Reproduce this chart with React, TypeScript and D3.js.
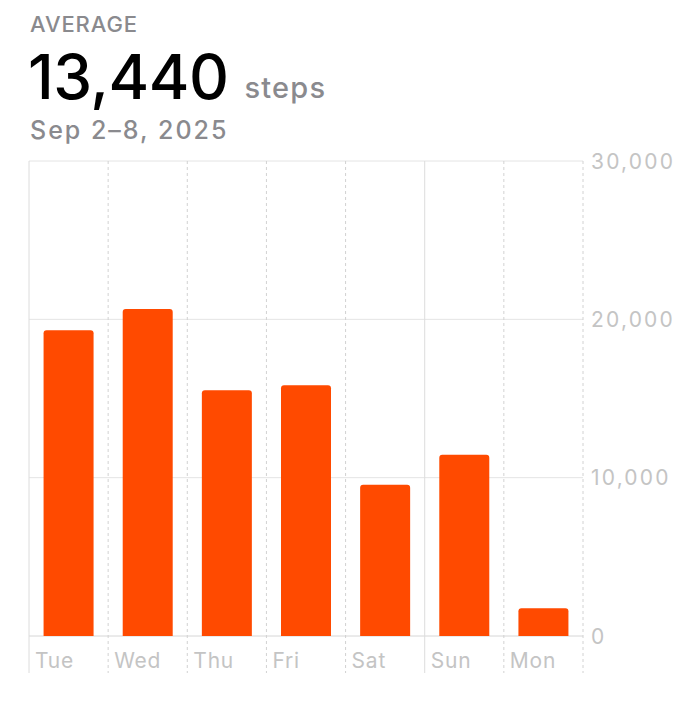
import React from "react";
import * as d3 from "d3";

// Daily step counts for the week
const days = ["Tue", "Wed", "Thu", "Fri", "Sat", "Sun", "Mon"];
const steps = [19310, 20660, 15520, 15840, 9560, 11440, 1750];
const yTicks = [0, 10000, 20000, 30000];
const headerLabel = "AVERAGE";
const unitLabel = "steps";
const rangeLabel = "Sep 2–8, 2025";
const weekStartDay = "Sun";

const W = 688;
const H = 720;
const plot = { left: 29, right: 583, top: 161, bottom: 636, lineBottom: 673 };
const FONT = "Inter, 'Noto Sans', sans-serif";
const BAR = "#ff4a00";
const GRID = "#e4e4e4";
const TICK_TEXT = "#c4c4c4";
const GRAY = "#8a8a8e";

function topRoundedRect(x: number, y: number, w: number, h: number, r: number) {
  const rr = Math.min(r, h, w / 2);
  const p = d3.path();
  p.moveTo(x, y + h);
  p.lineTo(x, y + rr);
  p.arcTo(x, y, x + rr, y, rr);
  p.lineTo(x + w - rr, y);
  p.arcTo(x + w, y, x + w, y + rr, rr);
  p.lineTo(x + w, y + h);
  p.closePath();
  return p.toString();
}

export default function App() {
  const x = d3
    .scaleBand<string>()
    .domain(days)
    .range([plot.left, plot.right])
    .paddingInner(0)
    .paddingOuter(0);
  const y = d3.scaleLinear().domain([0, 30000]).range([plot.bottom, plot.top]);
  const barW = 50;
  const avg = Math.round((d3.mean(steps) ?? 0) / 10) * 10;
  const fmt = d3.format(",");

  const boundaries = days.map((d) => ({ x: x(d)!, solid: d === weekStartDay || d === days[0] }));
  boundaries.push({ x: plot.right, solid: false });

  return (
    <svg
      width={W}
      height={H}
      viewBox={`0 0 ${W} ${H}`}
      style={{ position: "absolute", left: 0, top: 0, display: "block", background: "#fff" }}
      fontFamily={FONT}
    >
      {/* header */}
      <text x={30} y={32} fontSize={22} fontWeight={500} fill={GRAY} letterSpacing={0.9}>
        {headerLabel}
      </text>
      <text x={28} y={99} fontSize={62} fontWeight={500} fill="#000" letterSpacing={-0.5}>
        {fmt(avg)}
        <tspan dx={16} fontSize={29} fill={GRAY} dy={-1} letterSpacing={1.2}>
          {unitLabel}
        </tspan>
      </text>
      <text x={30} y={139} fontSize={25} fontWeight={500} fill={GRAY} letterSpacing={2.0}>
        {rangeLabel}
      </text>

      {/* horizontal grid */}
      {yTicks.map((t) => (
        <line
          key={t}
          x1={plot.left}
          x2={plot.right}
          y1={y(t)}
          y2={y(t)}
          stroke={t === 0 ? "#d6d6d6" : GRID}
          strokeWidth={1}
        />
      ))}

      {/* vertical day separators */}
      {boundaries.map((b, i) => (
        <line
          key={i}
          x1={b.x}
          x2={b.x}
          y1={plot.top}
          y2={plot.lineBottom}
          stroke={b.solid ? "#dcdcdc" : "#d2d2d2"}
          strokeWidth={1}
          strokeDasharray={b.solid ? undefined : "3,3"}
        />
      ))}

      {/* bars */}
      {days.map((d, i) => {
        const cx = x(d)! + x.bandwidth() / 2;
        const top = y(steps[i]);
        return (
          <path
            key={d}
            d={topRoundedRect(cx - barW / 2, top, barW, plot.bottom - top, 3)}
            fill={BAR}
          />
        );
      })}

      {/* day labels */}
      {days.map((d) => (
        <text key={d} x={x(d)! + 6} y={668} fontSize={21} fill={TICK_TEXT} letterSpacing={0.8}>
          {d}
        </text>
      ))}

      {/* y-axis labels */}
      {yTicks.map((t) => (
        <text
          key={t}
          x={591}
          y={y(t)}
          dy="0.36em"
          fontSize={21}
          fill={TICK_TEXT}
          letterSpacing={2.2}
        >
          {fmt(t)}
        </text>
      ))}
    </svg>
  );
}
